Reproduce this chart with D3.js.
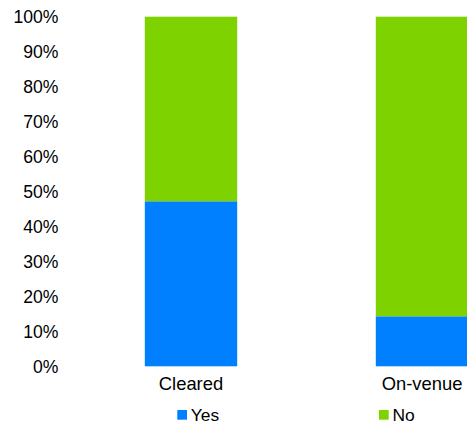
<!DOCTYPE html>
<html>
<head>
<meta charset="utf-8">
<script src="https://cdn.jsdelivr.net/npm/d3@7"></script>
<style>
  html, body { margin: 0; padding: 0; background: #ffffff; overflow: hidden; }
  svg { display: block; font-family: "Liberation Sans", Arial, sans-serif; }
</style>
</head>
<body>
<svg id="chart" width="467" height="425"></svg>
<script>
const categories = ["Cleared", "On-venue"];
const seriesNames = ["Yes", "No"];
const yesValues = [47.2, 14.3];
const noValues = [52.8, 85.7];
const yTicks = [0, 10, 20, 30, 40, 50, 60, 70, 80, 90, 100];
const colors = ["#0080ff", "#7ed200"];

const svg = d3.select("#chart");

const y = d3.scaleLinear().domain([0, 100]).range([366.3, 16.7]);
const x = d3.scaleBand().domain(categories).range([75.5, 537.5])
  .paddingInner(0.6).paddingOuter(0.3);

const table = categories.map((c, i) => ({ cat: c, Yes: yesValues[i], No: noValues[i] }));
const stacked = d3.stack().keys(seriesNames)(table);

svg.append("g").selectAll("g")
  .data(stacked)
  .join("g")
  .attr("fill", (d, i) => colors[i])
  .selectAll("rect")
  .data(d => d)
  .join("rect")
  .attr("x", d => x(d.data.cat))
  .attr("width", x.bandwidth())
  .attr("y", d => y(d[1]))
  .attr("height", d => y(d[0]) - y(d[1]));

// Y axis
const yAxis = svg.append("g")
  .attr("transform", "translate(62.5,0)")
  .call(d3.axisLeft(y).tickValues(yTicks).tickSize(0).tickPadding(4)
    .tickFormat(d => d + "%"));
yAxis.select(".domain").remove();
yAxis.selectAll("text")
  .attr("font-size", 17.6)
  .attr("font-family", "Liberation Sans, Arial, sans-serif")
  .attr("fill", "#000")
  .attr("dy", "0.35em");

// X axis labels
const xAxis = svg.append("g")
  .attr("transform", "translate(0,366.3)")
  .call(d3.axisBottom(x).tickSize(0).tickPadding(0));
xAxis.select(".domain").remove();
xAxis.selectAll("text")
  .attr("font-size", 18.4)
  .attr("font-family", "Liberation Sans, Arial, sans-serif")
  .attr("fill", "#000")
  .attr("y", 24.2)
  .attr("dy", 0);

// Legend
const legendX = d3.scalePoint().domain(seriesNames).range([177.3, 379]);
const lg = svg.append("g").selectAll("g")
  .data(seriesNames)
  .join("g")
  .attr("transform", d => `translate(${legendX(d)},410)`);
lg.append("rect")
  .attr("width", 9.7).attr("height", 9.7)
  .attr("fill", (d, i) => colors[i]);
lg.append("text")
  .attr("x", 13.5).attr("y", 11)
  .attr("font-size", 17.4)
  .attr("fill", "#000")
  .text(d => d);
</script>
</body>
</html>
